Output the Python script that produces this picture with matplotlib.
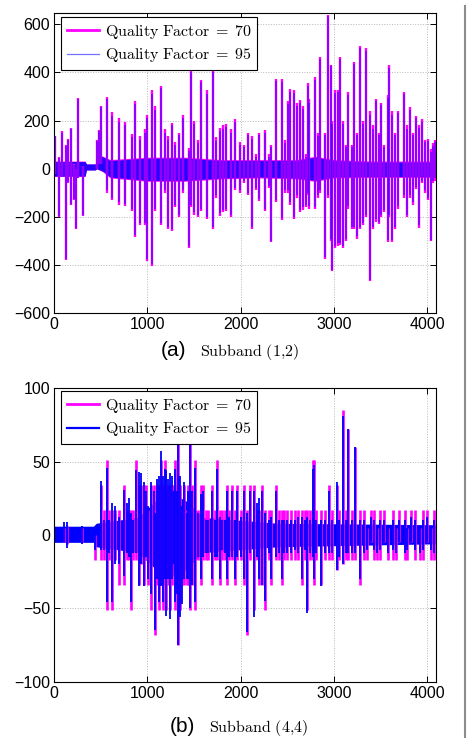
import matplotlib
matplotlib.use("Agg")
import matplotlib.pyplot as plt
from matplotlib.lines import Line2D

plt.rcParams['font.family'] = ['Liberation Sans', 'DejaVu Sans']
plt.rcParams['mathtext.fontset'] = 'cm'

MAG = '#ff00ff'
BLUE = '#0000ff'

# ---------------- Subband (1,2): spike positions and extremes ----------------
top_x = [5, 55, 80, 125, 145, 180, 215, 232, 253, 310,
         455, 480, 505, 565, 620, 690, 755, 830, 870, 920,
         975, 995, 1045, 1085, 1150, 1190, 1225, 1265, 1300, 1335,
         1380, 1445, 1462, 1500, 1540, 1578, 1640, 1703, 1740, 1775,
         1815, 1845, 1900, 1942, 1995, 2040, 2075, 2124, 2160, 2202,
         2256, 2300, 2327, 2381, 2441, 2480, 2505, 2530, 2577, 2605,
         2637, 2666, 2700, 2720, 2738, 2798, 2830, 2855, 2909, 2934,
         2969, 2985, 3016, 3041, 3066, 3094, 3125, 3155, 3190, 3219,
         3250, 3283, 3310, 3341, 3387, 3420, 3451, 3480, 3505, 3540,
         3576, 3594, 3623, 3660, 3690, 3755, 3790, 3822, 3850, 3880,
         3915, 3944, 3980, 4015, 4040, 4069, 4087]
top_q70_hi = [135, 50, 155, 100, 125, 170, 20, 0, 295, 10,
              120, 160, 260, 300, 235, 210, 195, 145, 280, 135,
              165, 225, 325, 260, 345, 165, 135, 190, 110, 150,
              225, 85, 410, 200, 120, 370, 325, 410, 130, 170,
              180, 185, 165, 205, 110, 100, 150, 135, 60, 150,
              160, 60, 100, 372, 372, 120, 280, 330, 325, 273,
              285, 260, 60, 356, 288, 380, 150, 465, 150, 640,
              432, 200, 325, 328, 465, 200, 100, 318, 100, 445,
              150, 510, 200, 500, 240, 180, 290, 150, 275, 100,
              305, 430, 240, 150, 240, 320, 180, 255, 150, 220,
              180, 205, 120, 125, 80, 105, 120]
top_q70_lo = [-20, -200, -30, -380, -60, -150, -130, -250, -40, -195,
              0, 20, 20, -100, -130, -150, -155, -175, -285, -235,
              -235, -385, -405, -175, -235, -100, -250, -260, -160, -200,
              -100, -330, -160, -190, -200, -175, -210, -250, -120, -195,
              -180, -175, -200, -90, -100, -60, -110, -250, -90, -134,
              -175, -80, -306, -140, -214, -100, -100, -150, -207, -120,
              -180, -170, -160, -110, -165, -168, -120, -100, -375, -120,
              -300, -425, -330, -320, -318, -330, -300, -165, -250, -250,
              -290, -250, -235, -200, -465, -250, -220, -230, -200, -180,
              -305, -200, -305, -250, -165, -120, -200, -120, -150, -85,
              -245, -60, -100, -130, -300, -60, -50]
top_q95_hi = [135, 45, 150, 95, 120, 165, 15, 0, 290, 10,
              115, 155, 255, 290, 220, 195, 180, 130, 270, 120,
              150, 210, 310, 245, 335, 150, 120, 180, 100, 140,
              210, 75, 400, 185, 105, 360, 310, 400, 115, 155,
              165, 175, 150, 195, 100, 90, 140, 125, 50, 140,
              150, 50, 90, 365, 360, 105, 270, 320, 315, 260,
              275, 250, 50, 345, 275, 370, 135, 455, 140, 635,
              425, 185, 315, 320, 455, 185, 90, 305, 90, 435,
              140, 500, 185, 490, 225, 165, 280, 140, 265, 90,
              295, 420, 225, 140, 230, 310, 165, 245, 140, 210,
              170, 195, 110, 115, 70, 95, 110]
top_q95_lo = [-20, -195, -30, -375, -55, -145, -125, -245, -40, -190,
              0, 20, 20, -90, -120, -140, -145, -165, -275, -225,
              -225, -375, -395, -165, -225, -90, -240, -250, -150, -190,
              -90, -320, -150, -180, -190, -165, -200, -240, -110, -185,
              -170, -165, -190, -80, -90, -50, -100, -240, -80, -125,
              -165, -70, -300, -130, -205, -90, -90, -140, -200, -110,
              -170, -160, -150, -100, -155, -160, -110, -90, -365, -110,
              -290, -420, -320, -310, -310, -320, -290, -155, -240, -240,
              -280, -240, -225, -190, -460, -240, -210, -220, -190, -170,
              -295, -190, -295, -240, -155, -110, -190, -110, -140, -75,
              -235, -50, -90, -120, -295, -50, -40]

# dense small oscillation around zero (envelope)
top_band_x = [0, 330, 345, 440, 455, 520, 600, 1000, 1400, 1800, 2200, 2600, 2800, 3000, 3400, 3800, 4096]
top_q70_band_lo = [-32, -32, -5, -5, 0, -12, -38, -52, -52, -42, -38, -42, -52, -38, -36, -36, -36]
top_q70_band_hi = [32, 32, 20, 20, 60, 52, 38, 48, 48, 38, 38, 38, 52, 38, 32, 32, 32]
top_q95_band_lo = [-30, -30, -5, -5, 0, -10, -34, -48, -48, -38, -34, -38, -48, -34, -32, -32, -32]
top_q95_band_hi = [30, 30, 20, 20, 60, 50, 34, 44, 44, 34, 34, 34, 48, 34, 28, 28, 28]

# ---------------- Subband (4,4) ----------------
bot_x = [100, 135, 300, 436, 497, 530, 561, 590, 621, 650,
         690, 746, 775, 800, 821, 850, 875, 905, 935, 960,
         985, 1010, 1040, 1065, 1078, 1100, 1120, 1143, 1165, 1185,
         1200, 1220, 1240, 1260, 1285, 1300, 1320, 1332, 1350, 1375,
         1395, 1420, 1440, 1453, 1480, 1514, 1540, 1570, 1600, 1625,
         1650, 1690, 1720, 1750, 1775, 1800, 1830, 1855, 1880, 1905,
         1935, 1960, 2000, 2040, 2070, 2100, 2140, 2170, 2200, 2230,
         2263, 2300, 2327, 2380, 2410, 2441, 2470, 2500, 2540, 2580,
         2610, 2655, 2690, 2712, 2745, 2773, 2790, 2810, 2862, 2900,
         2951, 2980, 3030, 3060, 3094, 3125, 3155, 3190, 3223, 3283,
         3320, 3355, 3400, 3430, 3460, 3500, 3540, 3580, 3630, 3670,
         3700, 3760, 3790, 3830, 3870, 3920, 3960, 4000, 4040, 4080]
bot_q70_hi = [5, 6, 5, 0, 34, 17, 51, 17, 17, 17,
              17, 34, 17, 17, 17, 17, 51, 34, 34, 34,
              34, 17, 34, 34, 17, 34, 34, 51, 34, 51,
              34, 34, 34, 34, 34, 51, 34, 62, 34, 17,
              34, 17, 34, 62, 34, 51, 17, 34, 34, 17,
              17, 34, 17, 51, 17, 17, 17, 34, 17, 34,
              17, 34, 17, 34, 17, 34, 34, 17, 17, 34,
              17, 17, 17, 34, 17, 17, 17, 17, 17, 17,
              17, 17, 17, 17, 17, 51, 51, 17, 17, 17,
              34, 17, 34, 17, 85, 17, 72, 17, 60, 17,
              17, 5, 17, 17, 5, 17, 17, 5, 17, 5,
              17, 17, 5, 17, 17, 5, 17, 17, 5, 17]
bot_q70_lo = [-5, -6, -5, -17, -17, -17, -51, -17, -51, -17,
              -34, -34, -17, -17, -51, -17, -17, -34, -20, -34,
              -17, -34, -51, -17, -68, -34, -51, -34, -51, -34,
              -51, -34, -51, -34, -17, -51, -34, -75, -51, -34,
              -34, -34, -34, -51, -34, -51, -17, -34, -17, -17,
              -17, -34, -17, -17, -34, -17, -17, -34, -17, -17,
              -34, -17, -17, -34, -68, -17, -51, -17, -34, -34,
              -51, -17, -34, -17, -17, -34, -17, -17, -17, -17,
              -17, -34, -17, -51, -17, -17, -34, -17, -34, -17,
              -17, -17, -24, -17, -20, -17, -17, -17, -17, -34,
              -17, -17, -5, -17, -17, -17, -5, -17, -17, -17,
              -5, -17, -17, -5, -17, -17, -17, -5, -17, -17]
bot_q95_hi = [9, 9, 6, 5, 37, 10, 46, 10, 22, 20,
              12, 31, 22, 25, 15, 10, 44, 43, 42, 36,
              30, 20, 36, 30, 15, 38, 40, 57, 40, 45,
              44, 38, 42, 40, 30, 45, 30, 62, 40, 20,
              36, 15, 30, 62, 30, 46, 15, 28, 30, 10,
              10, 30, 10, 45, 12, 10, 10, 30, 12, 30,
              10, 30, 12, 30, 15, 30, 30, 22, 25, 30,
              15, 10, 12, 30, 10, 10, 10, 10, 10, 10,
              12, 12, 10, 12, 10, 45, 48, 10, 10, 10,
              30, 10, 36, 10, 81, 10, 72, 10, 60, 10,
              10, 5, 12, 10, 5, 10, 10, 5, 10, 5,
              10, 10, 5, 12, 10, 5, 10, 12, 5, 10]
bot_q95_lo = [-5, -9, -6, -10, -10, -10, -46, -12, -46, -20,
              -20, -28, -12, -15, -46, -12, -12, -35, -20, -35,
              -15, -30, -40, -20, -65, -30, -46, -35, -46, -30,
              -55, -30, -57, -30, -20, -46, -40, -75, -56, -47,
              -30, -30, -30, -50, -34, -46, -15, -30, -15, -12,
              -12, -30, -15, -15, -30, -10, -12, -30, -15, -15,
              -30, -15, -15, -30, -66, -12, -56, -15, -30, -34,
              -45, -12, -30, -15, -12, -30, -12, -12, -12, -10,
              -12, -30, -10, -53, -12, -15, -30, -12, -35, -12,
              -12, -12, -24, -15, -20, -12, -12, -12, -12, -30,
              -12, -10, -5, -10, -12, -10, -5, -12, -10, -12,
              -5, -12, -10, -5, -10, -12, -10, -5, -10, -12]

bot_band_x = [0, 420, 450, 900, 1100, 1250, 1400, 1600, 2000, 2400, 4096]
bot_q70_band_lo = [-4, -4, -7, -10, -22, -26, -22, -10, -8, -6, -5]
bot_q70_band_hi = [5, 5, 7, 10, 22, 26, 22, 10, 8, 6, 6]
bot_q95_band_lo = [-5, -5, -8, -12, -24, -28, -24, -12, -10, -8, -6]
bot_q95_band_hi = [6, 6, 8, 12, 24, 28, 24, 12, 10, 8, 7]

labels = [r'$\mathrm{Quality\ Factor} \;=\; 70$', r'$\mathrm{Quality\ Factor} \;=\; 95$']

fig = plt.figure(figsize=(4.68, 7.38), dpi=100)
ax1 = fig.add_axes([0.116, 0.5755, 0.8156, 0.4073])
ax2 = fig.add_axes([0.116, 0.0763, 0.8156, 0.3975])

# top panel: QF95 drawn semi transparent over QF70
ax1.fill_between(top_band_x, top_q70_band_lo, top_q70_band_hi, color=MAG, lw=0)
ax1.vlines(top_x, top_q70_lo, top_q70_hi, color=MAG, lw=1.7)
ax1.fill_between(top_band_x, top_q95_band_lo, top_q95_band_hi, color=BLUE, alpha=0.85, lw=0)
ax1.vlines(top_x, top_q95_lo, top_q95_hi, color=BLUE, lw=1.1, alpha=0.55)
ax1.set_ylim(-600, 648)
ax1.set_yticks([-600, -400, -200, 0, 200, 400, 600])
h1 = [Line2D([], [], color=MAG, lw=2),
      Line2D([], [], color=BLUE, lw=0.9, alpha=0.55)]

# bottom panel
ax2.fill_between(bot_band_x, bot_q70_band_lo, bot_q70_band_hi, color=MAG, lw=0)
ax2.vlines(bot_x, bot_q70_lo, bot_q70_hi, color=MAG, lw=1.9)
ax2.fill_between(bot_band_x, bot_q95_band_lo, bot_q95_band_hi, color=BLUE, lw=0)
ax2.vlines(bot_x, bot_q95_lo, bot_q95_hi, color=BLUE, lw=1.3)
ax2.set_ylim(-100, 100)
ax2.set_yticks([-100, -50, 0, 50, 100])
h2 = [Line2D([], [], color=MAG, lw=2),
      Line2D([], [], color=BLUE, lw=1.6)]

for ax, h, top in [(ax1, h1, 0.9857), (ax2, h2, 0.991)]:
    ax.set_xlim(0, 4096)
    ax.set_xticks([0, 1000, 2000, 3000, 4000])
    ax.grid(True, linestyle=':', color='#b8b8b8', lw=0.7)
    ax.set_axisbelow(True)
    ax.tick_params(direction='in', top=True, right=True, length=4, width=0.7,
                   labelsize=11.5, pad=3)
    for s in ax.spines.values():
        s.set_linewidth(0.8)
    leg = ax.legend(h, labels, loc='upper left', bbox_to_anchor=(0.0176, top),
                    borderaxespad=0, fancybox=False, edgecolor='black',
                    framealpha=1, fontsize=11.5, handlelength=2.0,
                    handletextpad=0.4, labelspacing=0.35, borderpad=0.35)
    leg.get_frame().set_linewidth(0.8)

# captions
fig.text(161 / 468, 1 - 356 / 738, '(a)', fontsize=15, ha='left', va='baseline')
fig.text(200 / 468, 1 - 356 / 738, r'$\mathrm{Subband\ (1{,}2)}$', fontsize=11.5,
         ha='left', va='baseline')
fig.text(170 / 468, 1 - 731.5 / 738, '(b)', fontsize=15, ha='left', va='baseline')
fig.text(209 / 468, 1 - 731.5 / 738, r'$\mathrm{Subband\ (4{,}4)}$', fontsize=11.5,
         ha='left', va='baseline')

# page edge on the right
fig.add_artist(Line2D([465 / 468, 465 / 468], [0, 0.992], color='#8c8c8c', lw=1.5,
                      transform=fig.transFigure))

fig.savefig('out.png', dpi=100)
